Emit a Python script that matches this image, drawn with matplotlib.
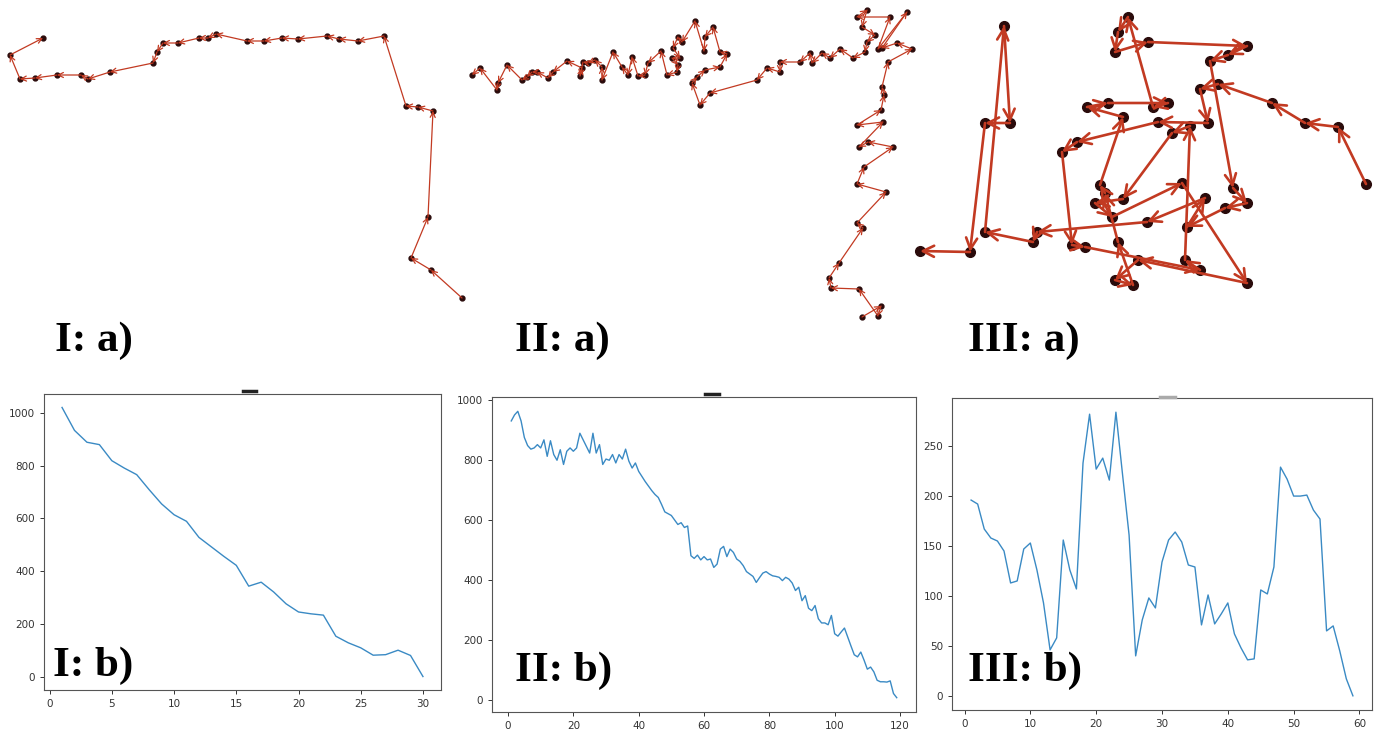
import matplotlib.pyplot as plt
from matplotlib.lines import Line2D
import numpy as np

W, H = 1381, 734

# walked paths, picture pixel coords (x right, y down), start -> goal
path1 = np.array([
    (462, 298), (431, 270), (411, 258), (428, 217), (433, 111), (418, 107), (406, 106),
    (384, 36), (358, 41), (339, 39), (327, 36), (298, 39), (282, 38), (264, 41), (247, 41),
    (216, 34), (208, 38), (199, 38), (178, 43), (163, 43), (157, 52), (153, 63), (110, 72),
    (88, 79), (81, 75), (57, 75), (35, 78), (20, 79), (10, 55), (43, 38)])

path2 = np.array([
    (862, 317), (881, 306), (878, 316), (859, 289), (831, 288), (829, 278), (839, 263),
    (863, 228), (857, 223), (886, 192), (857, 184), (864, 167), (893, 147), (868, 142),
    (859, 147), (883, 122), (857, 125), (881, 110), (884, 95), (882, 87), (888, 62),
    (912, 49), (897, 43), (882, 48), (907, 12), (878, 49), (890, 17), (857, 17), (867, 10),
    (862, 27), (875, 35), (867, 42),
    (865, 52), (853, 58), (840, 49), (830, 58), (822, 53), (812, 63), (810, 53), (800, 62),
    (780, 62), (780, 72), (767, 68), (757, 80),
    (710, 93), (700, 105), (692, 83), (697, 77), (705, 70), (720, 67), (727, 54), (720, 52),
    (713, 27), (705, 37), (704, 51), (695, 21), (682, 42), (678, 37), (673, 48), (680, 58),
    (672, 58), (678, 65), (677, 72), (667, 75), (661, 51), (648, 63), (645, 75), (638, 76),
    (632, 57), (628, 75), (622, 67), (613, 52), (602, 80), (602, 67), (595, 60), (588, 63),
    (583, 62), (580, 76), (582, 68), (567, 61), (553, 72), (548, 78), (537, 72), (532, 72),
    (527, 77), (522, 80), (507, 65), (498, 83), (497, 90), (480, 68), (472, 75)])

path3 = np.array([
    (1366, 184), (1338, 127), (1305, 123), (1272, 103), (1218, 84), (1200, 89), (1208, 123),
    (1158, 122), (1077, 142), (1062, 152), (1072, 245), (1085, 247), (1200, 270), (1185, 260),
    (1190, 126), (1172, 133), (1123, 199), (1095, 203), (1112, 217), (1182, 183), (1247, 283),
    (1138, 260), (1115, 280), (1133, 285), (1118, 242), (1105, 193), (1100, 185), (1123, 117),
    (1087, 107), (1108, 103), (1168, 103), (1153, 107), (1128, 17), (1118, 32), (1115, 52),
    (1148, 42), (1247, 46), (1228, 55), (1210, 61), (1233, 188), (1247, 203), (1225, 208),
    (1187, 227), (1205, 198), (1147, 222), (1037, 232), (1033, 242), (985, 232), (1004, 26),
    (1010, 123), (985, 123), (970, 252), (920, 251)])

# distance to goal per step
dist1 = [1021, 934, 889, 880, 819, 791, 766, 709, 655, 614, 589, 528, 492, 456, 422,
         343, 358, 321, 276, 245, 238, 233, 153, 128, 109, 81, 83, 100, 80, 0]

dist2 = [930, 950, 962, 930, 875, 848, 836, 840, 851, 840, 867, 812, 864, 818, 799,
         834, 785, 829, 840, 829, 840, 889, 867, 845, 823, 889, 823, 851, 785, 803,
         799, 818, 790, 818, 803, 836, 796, 773, 790, 762, 745, 728, 713, 698, 685,
         675, 652, 627, 621, 615, 600, 585, 591, 575, 580, 481, 472, 483, 467, 478,
         467, 470, 442, 453, 503, 512, 478, 503, 492, 470, 462, 448, 428, 420, 412,
         392, 408, 423, 428, 420, 414, 412, 409, 398, 409, 403, 390, 365, 376, 331,
         348, 306, 298, 315, 271, 257, 257, 251, 282, 221, 213, 227, 240, 210, 180,
         151, 144, 160, 133, 103, 110, 94, 66, 61, 61, 60, 64, 22, 8]

dist3 = [196, 192, 167, 158, 155, 145, 113, 115, 147, 153, 126, 93, 46, 58, 156,
         126, 107, 233, 282, 227, 238, 216, 284, 222, 161, 40, 76, 98, 88, 134,
         156, 164, 154, 131, 129, 71, 101, 72, 82, 93, 62, 48, 36, 37, 106,
         102, 129, 229, 217, 200, 200, 201, 186, 177, 65, 70, 45, 17, 0]

xticks = [range(0, 31, 5), range(0, 121, 20), range(0, 61, 10)]
yticks = [range(0, 1001, 200), range(0, 1001, 200), range(0, 251, 50)]

RED = '#c23a22'
DOT = '#2a0b0b'
BLUE = '#3a8ac4'
LABEL_FONT = dict(fontsize=31, fontweight='bold', family='Liberation Serif')


def px_axes(fig, x0, y0, x1, y1):
    """Axes placed by picture pixel box."""
    return fig.add_axes([x0 / W, 1 - y1 / H, (x1 - x0) / W, (y1 - y0) / H])


def draw_path(ax, pts, lw, head, ms):
    ax.plot(pts[:, 0], pts[:, 1], 'o', color=DOT, ms=ms, zorder=2)
    for a, b in zip(pts[:-1], pts[1:]):
        ax.annotate('', xy=b, xytext=a, zorder=3,
                    arrowprops=dict(arrowstyle='->', color=RED, lw=lw,
                                    shrinkA=0, shrinkB=0, mutation_scale=head))


fig = plt.figure(figsize=(W / 100, H / 100), dpi=100)

# top row: paths
top_boxes = [(0, 0, 470, 310), (460, 0, 920, 325), (905, 0, 1381, 300)]
styles = [(0.9, 9, 3.5), (0.9, 9, 3.5), (1.9, 20, 7)]
for pts, box, st in zip([path1, path2, path3], top_boxes, styles):
    ax = px_axes(fig, *box)
    ax.set_xlim(box[0], box[2])
    ax.set_ylim(box[3], box[1])
    ax.axis('off')
    ax.patch.set_alpha(0)
    draw_path(ax, pts, *st)

# bottom row: distance curves
bot_boxes = [(44, 394, 441, 690), (492, 397, 916, 712), (952, 398, 1372, 710)]
for d, box, xt, yt in zip([dist1, dist2, dist3], bot_boxes, xticks, yticks):
    ax = px_axes(fig, *box)
    ax.plot(range(1, len(d) + 1), d, color=BLUE, lw=1.0)
    ax.set_xticks(list(xt))
    ax.set_yticks(list(yt))
    ax.tick_params(labelsize=7.5, colors='#333333', length=3, width=0.7)
    for s in ax.spines.values():
        s.set_color('#555555')
        s.set_linewidth(0.8)

# clipped title remnants above the lower panels
for x0, x1, y, c in [(243, 256, 391, '#222222'), (705, 719, 394, '#222222'),
                     (1160, 1175, 397, '#aaaaaa')]:
    fig.add_artist(Line2D([x0 / W, x1 / W], [1 - y / H, 1 - y / H], color=c, lw=2.5))

# panel labels
labels = [('I: a)', 55, 351), ('II: a)', 515, 351), ('III: a)', 968, 351),
          ('I: b)', 53, 676), ('II: b)', 515, 681), ('III: b)', 968, 681)]
for txt, x, y in labels:
    fig.text(x / W, 1 - y / H, txt, va='baseline', ha='left', **LABEL_FONT)

fig.savefig('out.png', dpi=100)
